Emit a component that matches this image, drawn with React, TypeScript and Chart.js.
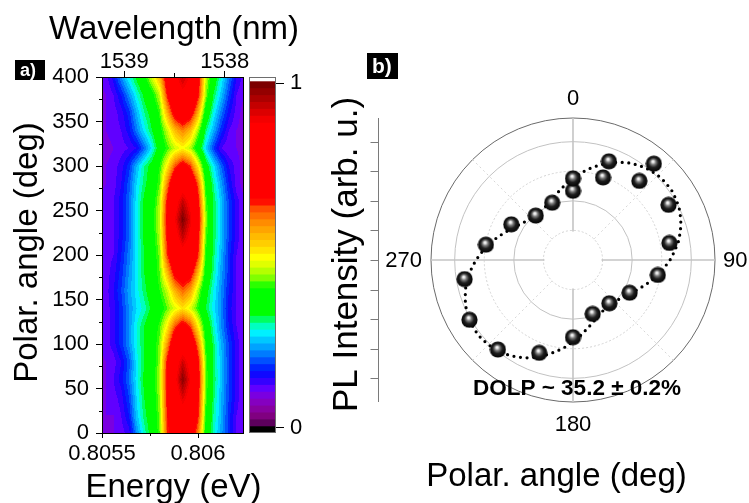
import React, { useEffect, useRef } from 'react';
import { Chart, registerables } from 'chart.js';

Chart.register(...registerables);

const FONT = "'Liberation Sans', Arial, Helvetica, sans-serif";
const W = 749;
const H = 503;

// ---------------- panel a : PL map ----------------
const ENERGY_EV = [
  0.80548, 0.80552, 0.80556, 0.8056, 0.80564, 0.80568, 0.80572, 0.80576, 0.8058, 0.80584,
  0.80588, 0.80592, 0.80596, 0.806, 0.80604, 0.80608, 0.80612, 0.80616, 0.8062, 0.80624,
];
const MAP_ANGLES = [0, 20, 40, 60, 80, 100, 120, 140, 160, 180, 200, 220, 240, 260, 280, 300, 320, 340, 360, 380, 400];
// normalised PL intensity, one row per polarisation angle
const PL_MAP: number[][] = [
  [0.09, 0.09, 0.1, 0.11, 0.13, 0.22, 0.29, 0.34, 0.42, 0.64, 0.71, 0.74, 0.72, 0.6, 0.38, 0.29, 0.23, 0.17, 0.12, 0.1], // 0
  [0.09, 0.1, 0.1, 0.12, 0.16, 0.25, 0.31, 0.35, 0.43, 0.66, 0.78, 0.83, 0.8, 0.66, 0.4, 0.3, 0.24, 0.17, 0.12, 0.1], // 20
  [0.09, 0.1, 0.11, 0.13, 0.18, 0.26, 0.32, 0.36, 0.44, 0.67, 0.82, 0.91, 0.84, 0.68, 0.42, 0.31, 0.24, 0.18, 0.13, 0.1], // 40
  [0.09, 0.1, 0.12, 0.15, 0.2, 0.27, 0.33, 0.37, 0.45, 0.68, 0.86, 0.98, 0.88, 0.7, 0.43, 0.32, 0.25, 0.18, 0.13, 0.1], // 60
  [0.09, 0.1, 0.11, 0.14, 0.19, 0.27, 0.32, 0.36, 0.44, 0.67, 0.83, 0.92, 0.85, 0.68, 0.42, 0.31, 0.25, 0.18, 0.13, 0.1], // 80
  [0.1, 0.11, 0.13, 0.17, 0.22, 0.28, 0.32, 0.36, 0.43, 0.58, 0.76, 0.82, 0.77, 0.6, 0.4, 0.31, 0.24, 0.18, 0.13, 0.1], // 100
  [0.1, 0.11, 0.13, 0.17, 0.22, 0.28, 0.32, 0.36, 0.41, 0.5, 0.63, 0.7, 0.64, 0.5, 0.37, 0.29, 0.22, 0.16, 0.12, 0.1], // 120
  [0.1, 0.11, 0.13, 0.17, 0.22, 0.26, 0.29, 0.33, 0.37, 0.42, 0.47, 0.51, 0.47, 0.4, 0.32, 0.27, 0.22, 0.15, 0.12, 0.1], // 140
  [0.1, 0.11, 0.14, 0.18, 0.23, 0.27, 0.31, 0.35, 0.4, 0.46, 0.56, 0.62, 0.57, 0.45, 0.34, 0.28, 0.22, 0.16, 0.12, 0.1], // 160
  [0.1, 0.11, 0.13, 0.17, 0.22, 0.27, 0.32, 0.36, 0.42, 0.55, 0.69, 0.74, 0.7, 0.55, 0.38, 0.3, 0.23, 0.17, 0.12, 0.1], // 180
  [0.1, 0.11, 0.12, 0.16, 0.21, 0.27, 0.32, 0.36, 0.43, 0.64, 0.78, 0.84, 0.8, 0.65, 0.4, 0.31, 0.24, 0.17, 0.12, 0.1], // 200
  [0.1, 0.11, 0.12, 0.15, 0.2, 0.27, 0.33, 0.37, 0.45, 0.67, 0.84, 0.93, 0.86, 0.68, 0.42, 0.32, 0.25, 0.18, 0.13, 0.1], // 220
  [0.1, 0.11, 0.12, 0.15, 0.2, 0.27, 0.33, 0.38, 0.46, 0.69, 0.88, 0.99, 0.9, 0.71, 0.44, 0.32, 0.25, 0.18, 0.13, 0.1], // 240
  [0.1, 0.11, 0.12, 0.15, 0.2, 0.27, 0.33, 0.37, 0.45, 0.67, 0.84, 0.93, 0.86, 0.68, 0.42, 0.32, 0.25, 0.18, 0.13, 0.1], // 260
  [0.09, 0.1, 0.11, 0.14, 0.19, 0.26, 0.31, 0.35, 0.42, 0.6, 0.77, 0.83, 0.78, 0.62, 0.39, 0.3, 0.23, 0.16, 0.11, 0.09], // 280
  [0.09, 0.1, 0.11, 0.13, 0.17, 0.24, 0.3, 0.34, 0.4, 0.5, 0.63, 0.7, 0.64, 0.5, 0.35, 0.27, 0.2, 0.14, 0.11, 0.09], // 300
  [0.09, 0.09, 0.1, 0.11, 0.12, 0.14, 0.2, 0.27, 0.35, 0.41, 0.46, 0.49, 0.45, 0.36, 0.26, 0.18, 0.12, 0.1, 0.1, 0.09], // 320
  [0.09, 0.1, 0.11, 0.12, 0.15, 0.21, 0.27, 0.32, 0.38, 0.46, 0.55, 0.6, 0.55, 0.44, 0.31, 0.24, 0.17, 0.12, 0.1, 0.09], // 340
  [0.09, 0.1, 0.11, 0.13, 0.17, 0.24, 0.3, 0.34, 0.41, 0.56, 0.7, 0.76, 0.71, 0.56, 0.37, 0.28, 0.21, 0.15, 0.11, 0.09], // 360
  [0.09, 0.1, 0.12, 0.16, 0.22, 0.28, 0.33, 0.38, 0.46, 0.66, 0.8, 0.86, 0.82, 0.67, 0.44, 0.32, 0.25, 0.18, 0.12, 0.1], // 380
  [0.1, 0.11, 0.15, 0.22, 0.28, 0.33, 0.38, 0.47, 0.55, 0.72, 0.86, 0.93, 0.87, 0.7, 0.46, 0.36, 0.28, 0.21, 0.14, 0.11], // 400
];
const E_MIN = 0.8055;
const E_MAX = 0.806234;
const E_TICKS = [0.8055, 0.806];
const E_TICK_LABELS = ['0.8055', '0.806'];
const E_MINOR = [0.80575];
const WL_TICKS = [1539, 1538];
const WL_MINOR = [1538.5];
const HC = 1239.842; // eV·nm
const Y_MIN = 0;
const Y_MAX = 400;
const Y_TICKS = [0, 50, 100, 150, 200, 250, 300, 350, 400];
const Y_MINOR = [25, 75, 125, 175, 225, 275, 325, 375];

// colour scale
const CBAR_MIN = -0.0145;
const CBAR_MAX = 1.0174;
const CBAR_TICKS = [0, 1];
const N_LEVELS = 50;
const PALETTE: [number, string][] = [
  [0.0, '#4a004a'],
  [0.03, '#800080'],
  [0.06, '#8a00b0'],
  [0.09, '#7a00e0'],
  [0.11, '#6000ff'],
  [0.14, '#2000ff'],
  [0.16, '#0010ff'],
  [0.19, '#0050ff'],
  [0.22, '#0090ff'],
  [0.25, '#00c8ff'],
  [0.27, '#00f0ff'],
  [0.29, '#00ffc0'],
  [0.31, '#00ff60'],
  [0.33, '#00ff00'],
  [0.4, '#00ff00'],
  [0.43, '#80ff00'],
  [0.46, '#d0ff00'],
  [0.49, '#ffff00'],
  [0.52, '#ffd800'],
  [0.56, '#ffb000'],
  [0.6, '#ff8000'],
  [0.63, '#ff5000'],
  [0.655, '#ff0000'],
  [0.88, '#ff0000'],
  [0.92, '#d00000'],
  [0.96, '#a00000'],
  [1.0, '#700000'],
];

// ---------------- panel b : polar plot ----------------
const POLAR_ANGLES = [0, 20, 40, 60, 80, 100, 120, 140, 160, 180, 200, 220, 240, 260, 280, 300, 320, 340, 360, 380, 400];
const POLAR_INTENSITY = [
  2.34, 2.97, 3.49, 3.73, 3.31, 2.91, 2.21, 1.91, 1.94, 2.61, 3.34, 3.95, 4.04, 3.72, 2.99, 2.41, 1.96, 2.06, 2.76,
  3.55, 4.25,
];
const FIT_ANGLE_STEP = 5;
const FIT_VALUES = [
  2.76, 2.95, 3.13, 3.31, 3.49, 3.65, 3.79, 3.9, 3.99, 4.05, 4.08, 4.08, 4.04, 3.98, 3.88, 3.76, 3.62, 3.45,
  3.28, 3.09, 2.91, 2.73, 2.55, 2.39, 2.25, 2.14, 2.05, 1.99, 1.96, 1.96, 2.0, 2.06, 2.16, 2.28, 2.42, 2.59,
  2.76, 2.95, 3.13, 3.31, 3.49, 3.65, 3.79, 3.9, 3.99, 4.05, 4.08, 4.08, 4.04, 3.98, 3.88, 3.76, 3.62, 3.45,
  3.28, 3.09, 2.91, 2.73, 2.55, 2.39, 2.25, 2.14, 2.05, 1.99, 1.96, 1.96, 2.0, 2.06, 2.16, 2.28, 2.42, 2.59,
];
const R_MAX = 4.8;
const R_TICKS = [0, 1, 2, 3, 4, 4.8];
const R_AXIS_TICKS = [-4, -3, -2, -1, 0, 1, 2, 3, 4];
const ANGLE_LABEL_VALUES = [0, 90, 180, 270];
const DOLP_TEXT = 'DOLP ~ 35.2 \u00b1 0.2%';

// ---------------- helpers ----------------
const PALETTE_RGB = PALETTE.map(([s, hex]) => [
  s,
  parseInt(hex.slice(1, 3), 16),
  parseInt(hex.slice(3, 5), 16),
  parseInt(hex.slice(5, 7), 16),
]);

function cmap(t: number): number[] {
  for (let i = 0; i < PALETTE_RGB.length - 1; i++) {
    const a = PALETTE_RGB[i];
    const b = PALETTE_RGB[i + 1];
    if (t <= b[0]) {
      const f = (t - a[0]) / (b[0] - a[0]);
      return [a[1] + (b[1] - a[1]) * f, a[2] + (b[2] - a[2]) * f, a[3] + (b[3] - a[3]) * f];
    }
  }
  const l = PALETTE_RGB[PALETTE_RGB.length - 1];
  return [l[1], l[2], l[3]];
}

function levelColor(v: number): number[] {
  if (v < 0) return [0, 0, 0];
  if (v >= 1) return [255, 255, 255];
  const k = Math.floor(v * N_LEVELS);
  return cmap((k + 0.5) / N_LEVELS);
}

function rgbStr(c: number[]) {
  return `rgb(${Math.round(c[0])},${Math.round(c[1])},${Math.round(c[2])})`;
}

function locate(arr: number[], v: number): [number, number] {
  const n = arr.length;
  if (v <= arr[0]) return [0, 0];
  if (v >= arr[n - 1]) return [n - 2, 1];
  let k = 0;
  while (arr[k + 1] < v) k++;
  return [k, (v - arr[k]) / (arr[k + 1] - arr[k])];
}

function sampleMap(e: number, a: number): number {
  const [c, tx] = locate(ENERGY_EV, e);
  const [r, ty] = locate(MAP_ANGLES, a);
  const v00 = PL_MAP[r][c];
  const v01 = PL_MAP[r][c + 1];
  const v10 = PL_MAP[r + 1][c];
  const v11 = PL_MAP[r + 1][c + 1];
  return (1 - ty) * ((1 - tx) * v00 + tx * v01) + ty * ((1 - tx) * v10 + tx * v11);
}

function makeSphere(d: number): HTMLCanvasElement {
  const c = document.createElement('canvas');
  c.width = d;
  c.height = d;
  const g = c.getContext('2d')!;
  const r = d / 2;
  const grad = g.createRadialGradient(r * 0.88, r * 0.72, 0, r, r, r);
  grad.addColorStop(0, '#ffffff');
  grad.addColorStop(0.13, '#e6e6e6');
  grad.addColorStop(0.32, '#7a7a7a');
  grad.addColorStop(0.58, '#1e1e1e');
  grad.addColorStop(1, '#000000');
  g.fillStyle = grad;
  g.beginPath();
  g.arc(r, r, r - 0.4, 0, Math.PI * 2);
  g.fill();
  return c;
}

const tickFont = { family: FONT, size: 22 };

// ---------------- plugins ----------------
const heatmapPlugin = {
  id: 'plmap',
  beforeDraw(chart: any) {
    const { ctx, chartArea: a, scales } = chart;
    const xs = scales.x;
    const ys = scales.y;
    const w = Math.round(a.right - a.left);
    const h = Math.round(a.bottom - a.top);
    const off = document.createElement('canvas');
    off.width = w;
    off.height = h;
    const octx = off.getContext('2d')!;
    const img = octx.createImageData(w, h);
    for (let j = 0; j < h; j++) {
      const ang = ys.getValueForPixel(a.top + j + 0.5);
      for (let i = 0; i < w; i++) {
        const e = xs.getValueForPixel(a.left + i + 0.5);
        const col = levelColor(sampleMap(e, ang));
        const p = (j * w + i) * 4;
        img.data[p] = col[0];
        img.data[p + 1] = col[1];
        img.data[p + 2] = col[2];
        img.data[p + 3] = 255;
      }
    }
    octx.putImageData(img, 0, 0);
    ctx.drawImage(off, a.left, a.top);
  },
  afterDraw(chart: any) {
    const { ctx, chartArea: a, scales } = chart;
    ctx.save();
    ctx.strokeStyle = '#000';
    ctx.lineWidth = 1;
    ctx.beginPath();
    Y_MINOR.forEach((v) => {
      const py = Math.round(scales.y.getPixelForValue(v)) + 0.5;
      ctx.moveTo(a.left - 3, py);
      ctx.lineTo(a.left, py);
    });
    E_MINOR.forEach((v) => {
      const px = Math.round(scales.x.getPixelForValue(v)) + 0.5;
      ctx.moveTo(px, a.bottom);
      ctx.lineTo(px, a.bottom + 3);
    });
    WL_MINOR.forEach((wl) => {
      const px = Math.round(scales.x2.getPixelForValue(HC / wl)) + 0.5;
      ctx.moveTo(px, a.top - 4);
      ctx.lineTo(px, a.top);
    });
    ctx.stroke();

    ctx.fillStyle = '#000';
    ctx.font = `33px ${FONT}`;
    ctx.textAlign = 'center';
    ctx.textBaseline = 'alphabetic';
    const cx = (a.left + a.right) / 2;
    ctx.fillText('Wavelength (nm)', cx + 1.5, 39);
    ctx.fillText('Energy (eV)', cx + 1, 497);
    ctx.save();
    ctx.translate(37, (a.top + a.bottom) / 2 - 2.5);
    ctx.rotate(-Math.PI / 2);
    ctx.fillText('Polar. angle (deg)', 0, 0);
    ctx.restore();

    // panel tag
    ctx.fillStyle = '#000';
    ctx.fillRect(15, 60, 30, 20);
    ctx.fillStyle = '#fff';
    ctx.font = `bold 18px ${FONT}`;
    ctx.textAlign = 'left';
    ctx.fillText('a)', 20, 76);
    ctx.restore();
  },
};

const cbarPlugin = {
  id: 'cbarFrame',
  afterDatasetsDraw(chart: any) {
    const { ctx, chartArea: a } = chart;
    ctx.save();
    ctx.strokeStyle = '#6e6e6e';
    ctx.lineWidth = 1;
    ctx.strokeRect(a.left + 0.5, a.top + 0.5, a.right - a.left - 1, a.bottom - a.top - 1);
    ctx.restore();
  },
};

const polarPlugin = {
  id: 'polarExtras',
  beforeDatasetsDraw(chart: any) {
    const r = chart.scales.r;
    const ctx = chart.ctx;
    const inner = r.getDistanceFromCenterForValue(R_TICKS[1]);
    ctx.save();
    ctx.fillStyle = '#fff';
    ctx.beginPath();
    ctx.arc(r.xCenter, r.yCenter, inner - 1, 0, Math.PI * 2);
    ctx.fill();
    ctx.restore();
  },
  afterDraw(chart: any) {
    const r = chart.scales.r;
    const ctx = chart.ctx;
    const cx = r.xCenter;
    const cy = r.yCenter;
    const R = r.drawingArea;
    ctx.save();
    ctx.fillStyle = '#000';
    ctx.font = `22px ${FONT}`;
    ctx.textBaseline = 'alphabetic';
    const idx = (deg: number) => deg / FIT_ANGLE_STEP;
    let p = r.getPointPosition(idx(ANGLE_LABEL_VALUES[0]), R + 13);
    ctx.textAlign = 'center';
    ctx.fillText(String(ANGLE_LABEL_VALUES[0]), p.x, p.y);
    p = r.getPointPosition(idx(ANGLE_LABEL_VALUES[1]), R + 8);
    ctx.textAlign = 'left';
    ctx.fillText(String(ANGLE_LABEL_VALUES[1]), p.x, p.y + 7);
    p = r.getPointPosition(idx(ANGLE_LABEL_VALUES[2]), R + 29);
    ctx.textAlign = 'center';
    ctx.fillText(String(ANGLE_LABEL_VALUES[2]), p.x, p.y);
    p = r.getPointPosition(idx(ANGLE_LABEL_VALUES[3]), R + 9);
    ctx.textAlign = 'right';
    ctx.fillText(String(ANGLE_LABEL_VALUES[3]), p.x, p.y + 7);

    // radial intensity axis on the left
    const ax = Math.round(cx - 195) + 0.5;
    ctx.strokeStyle = '#7a7a7a';
    ctx.lineWidth = 1;
    ctx.beginPath();
    ctx.moveTo(ax, cy - R);
    ctx.lineTo(ax, cy + R);
    R_AXIS_TICKS.forEach((v) => {
      const d = r.getDistanceFromCenterForValue(Math.abs(v));
      const py = Math.round(cy - Math.sign(v) * d) + 0.5;
      ctx.moveTo(ax - 8, py);
      ctx.lineTo(ax, py);
    });
    ctx.stroke();

    ctx.font = `35px ${FONT}`;
    ctx.textAlign = 'center';
    ctx.save();
    ctx.translate(357, cy - 5.5);
    ctx.rotate(-Math.PI / 2);
    ctx.fillText('PL Intensity (arb. u.)', 0, 0);
    ctx.restore();
    ctx.font = `33px ${FONT}`;
    ctx.fillText('Polar. angle (deg)', cx - 16.5, 486);

    ctx.font = `bold 22.5px ${FONT}`;
    ctx.fillText(DOLP_TEXT, cx + 4, 395);

    ctx.fillStyle = '#000';
    ctx.fillRect(367, 53, 31, 26);
    ctx.fillStyle = '#fff';
    ctx.font = `bold 21px ${FONT}`;
    ctx.textAlign = 'left';
    ctx.fillText('b)', 372, 73);
    ctx.restore();
  },
};

export default function App() {
  const mapRef = useRef<HTMLCanvasElement>(null);
  const barRef = useRef<HTMLCanvasElement>(null);
  const polarRef = useRef<HTMLCanvasElement>(null);

  useEffect(() => {
    const charts: Chart[] = [];

    // ---- panel a: PL map ----
    const gridPoints = MAP_ANGLES.flatMap((ang) => ENERGY_EV.map((e) => ({ x: e, y: ang })));
    charts.push(
      new Chart(mapRef.current!, {
        type: 'scatter',
        data: { datasets: [{ data: gridPoints, pointRadius: 0, pointHoverRadius: 0 }] },
        options: {
          animation: false,
          responsive: false,
          maintainAspectRatio: false,
          events: [],
          layout: { padding: { left: 0, right: W - 243, top: 0, bottom: 0 } },
          plugins: { legend: { display: false }, tooltip: { enabled: false } },
          scales: {
            x: {
              type: 'linear',
              position: 'bottom',
              min: E_MIN,
              max: E_MAX,
              afterBuildTicks: (s: any) => {
                s.ticks = E_TICKS.map((v) => ({ value: v }));
              },
              afterFit: (s: any) => {
                s.height = 70;
              },
              ticks: {
                callback: (_v: any, i: number) => E_TICK_LABELS[i],
                font: tickFont,
                color: '#000',
                padding: 3,
                maxRotation: 0,
                autoSkip: false,
              },
              grid: { drawOnChartArea: false, tickLength: 5, tickColor: '#000', tickWidth: 1 },
              border: { color: '#000', width: 1 },
            },
            x2: {
              type: 'linear',
              position: 'top',
              min: E_MIN,
              max: E_MAX,
              afterBuildTicks: (s: any) => {
                s.ticks = WL_TICKS.map((wl) => ({ value: HC / wl }));
              },
              afterFit: (s: any) => {
                s.height = 77;
              },
              ticks: {
                callback: (_v: any, i: number) => String(WL_TICKS[i]),
                font: { family: FONT, size: 22, lineHeight: 1 },
                color: '#000',
                padding: -2,
                maxRotation: 0,
                autoSkip: false,
              },
              grid: { drawOnChartArea: false, tickLength: 6, tickColor: '#000', tickWidth: 1 },
              border: { color: '#000', width: 1 },
            },
            y: {
              type: 'linear',
              position: 'left',
              min: Y_MIN,
              max: Y_MAX,
              afterBuildTicks: (s: any) => {
                s.ticks = Y_TICKS.map((v) => ({ value: v }));
              },
              afterFit: (s: any) => {
                s.width = 102;
              },
              ticks: { callback: (v: any) => String(v), font: tickFont, color: '#000', padding: 7, autoSkip: false },
              grid: { drawOnChartArea: false, tickLength: 6, tickColor: '#000', tickWidth: 1 },
              border: { color: '#000', width: 1 },
            },
            y2: {
              type: 'linear',
              position: 'right',
              min: Y_MIN,
              max: Y_MAX,
              afterFit: (s: any) => {
                s.width = 0;
              },
              ticks: { display: false },
              grid: { drawOnChartArea: false, drawTicks: false },
              border: { color: '#000', width: 1 },
            },
          },
        } as any,
        plugins: [heatmapPlugin],
      })
    );

    // ---- colour scale ----
    const bands: { lo: number; hi: number; color: string }[] = [];
    bands.push({ lo: CBAR_MIN, hi: 0, color: '#000000' });
    for (let k = 0; k < N_LEVELS; k++) {
      bands.push({ lo: k / N_LEVELS, hi: (k + 1) / N_LEVELS, color: rgbStr(cmap((k + 0.5) / N_LEVELS)) });
    }
    bands.push({ lo: 1, hi: CBAR_MAX, color: '#ffffff' });
    charts.push(
      new Chart(barRef.current!, {
        type: 'bar',
        data: {
          labels: [''],
          datasets: bands.map((b) => ({
            data: [[b.lo, Math.min(b.hi + 0.004, CBAR_MAX)]],
            backgroundColor: b.color,
            borderWidth: 0,
            barPercentage: 1,
            categoryPercentage: 1,
            grouped: false,
          })),
        },
        options: {
          animation: false,
          responsive: false,
          maintainAspectRatio: false,
          events: [],
          layout: { padding: { left: 249, right: W - 306, top: 77, bottom: H - 433 } },
          plugins: { legend: { display: false }, tooltip: { enabled: false } },
          scales: {
            x: { display: false },
            y: {
              type: 'linear',
              position: 'right',
              min: CBAR_MIN,
              max: CBAR_MAX,
              afterBuildTicks: (s: any) => {
                s.ticks = CBAR_TICKS.map((v) => ({ value: v }));
              },
              afterFit: (s: any) => {
                s.width = 30;
              },
              ticks: { callback: (v: any) => String(v), font: tickFont, color: '#000', padding: 6 },
              grid: { drawOnChartArea: false, tickLength: 8, tickColor: '#000', tickWidth: 1 },
              border: { display: false },
            },
          },
        } as any,
        plugins: [cbarPlugin],
      })
    );

    // ---- panel b: polar plot ----
    const labels = FIT_VALUES.map((_v, i) => String(i * FIT_ANGLE_STEP));
    const firstTurn: (number | null)[] = labels.map(() => null);
    const secondTurn: (number | null)[] = labels.map(() => null);
    POLAR_ANGLES.forEach((ang, i) => {
      const k = (ang % 360) / FIT_ANGLE_STEP;
      if (ang < 360) firstTurn[k] = POLAR_INTENSITY[i];
      else secondTurn[k] = POLAR_INTENSITY[i];
    });
    const sphere = makeSphere(17);
    const pointDs = (data: (number | null)[], order: number) => ({
      data,
      showLine: false,
      fill: false,
      pointStyle: sphere,
      pointRadius: 8.5,
      pointHoverRadius: 8.5,
      borderWidth: 0,
      borderColor: 'rgba(0,0,0,0)',
      backgroundColor: '#000',
      order,
    });
    charts.push(
      new Chart(polarRef.current!, {
        type: 'radar',
        data: {
          labels,
          datasets: [
            {
              data: FIT_VALUES,
              fill: false,
              borderColor: '#000',
              borderWidth: 3.2,
              borderDash: [0, 6.6],
              borderCapStyle: 'round',
              pointRadius: 0,
              pointHoverRadius: 0,
              tension: 0,
              order: 3,
            },
            pointDs(firstTurn, 2),
            pointDs(secondTurn, 1),
          ],
        },
        options: {
          animation: false,
          responsive: false,
          maintainAspectRatio: false,
          events: [],
          layout: { padding: { left: 431, right: W - 715, top: 118, bottom: H - 402 } },
          plugins: { legend: { display: false }, tooltip: { enabled: false } },
          scales: {
            r: {
              min: 0,
              max: R_MAX,
              afterBuildTicks: (s: any) => {
                s.ticks = R_TICKS.map((v) => ({ value: v }));
              },
              ticks: { display: false },
              pointLabels: { display: false },
              grid: {
                circular: true,
                color: (c: any) => {
                  const v = c.tick ? c.tick.value : 0;
                  if (v >= R_MAX - 1e-9) return '#6a6a6a';
                  return Math.round(v) % 2 === 0 ? '#c2c2c2' : '#d2d2d2';
                },
                lineWidth: 1,
              },
              border: {
                dash: (c: any) => {
                  const v = c.tick ? c.tick.value : 0;
                  return v < R_MAX - 1e-9 && Math.round(v) % 2 === 1 ? [2, 2] : [];
                },
              },
              angleLines: {
                color: (c: any) =>
                  c.index % 18 === 0 ? '#c4c4c4' : c.index % 9 === 0 ? '#d6d6d6' : 'rgba(0,0,0,0)',
                lineWidth: (c: any) => (c.index % 18 === 0 ? 1.6 : c.index % 9 === 0 ? 1 : 0),
                borderDash: (c: any) => (c.index % 18 === 0 ? [] : [2, 3]),
              },
            },
          },
        } as any,
        plugins: [polarPlugin],
      })
    );

    return () => charts.forEach((c) => c.destroy());
  }, []);

  const cs: React.CSSProperties = { position: 'absolute', left: 0, top: 0, width: W, height: H };
  return (
    <div style={{ position: 'absolute', left: 0, top: 0, width: W, height: H, background: '#fff', overflow: 'hidden' }}>
      <canvas ref={mapRef} width={W} height={H} style={cs} />
      <canvas ref={barRef} width={W} height={H} style={cs} />
      <canvas ref={polarRef} width={W} height={H} style={cs} />
    </div>
  );
}
